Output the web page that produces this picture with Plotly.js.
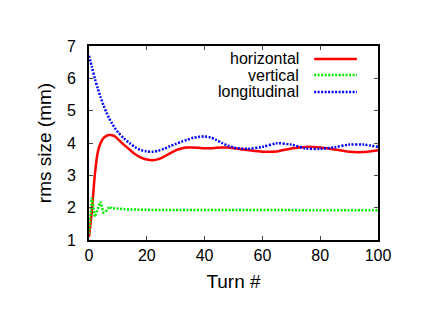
<!DOCTYPE html>
<html>
<head>
<meta charset="utf-8">
<script src="https://cdn.plot.ly/plotly-3.0.1.min.js"></script>
<style>
  body { margin: 0; background: #fff; }
  #chart { width: 421px; height: 325px; }
</style>
</head>
<body>
<div id="chart"></div>
<script>
const turns = [0, 1, 2, 3, 4, 5, 6, 7, 8, 9, 10, 12, 14, 16, 18, 20, 22, 24, 26, 28, 30, 32, 34, 36, 38, 40,
    42, 44, 46, 48, 50, 55, 60, 65, 70, 75, 80, 85, 90, 95, 100];

const horizontal = [1.1, 1.9, 3.0, 3.7, 4.0, 4.15, 4.22, 4.25, 4.24, 4.2, 4.12, 3.95, 3.8, 3.65, 3.55, 3.49, 3.47,
    3.5, 3.58, 3.68, 3.77, 3.83, 3.86, 3.86, 3.85, 3.84, 3.84, 3.85, 3.86, 3.86, 3.84, 3.78, 3.73, 3.74, 3.83,
    3.88, 3.86, 3.8, 3.73, 3.72, 3.78];

const vertical = [1.2, 2.3, 1.72, 1.95, 2.18, 1.85, 1.9, 2.03, 1.97, 1.98, 1.97, 1.95, 1.94, 1.94, 1.93, 1.93,
    1.93, 1.93, 1.93, 1.93, 1.93, 1.93, 1.93, 1.93, 1.93, 1.93, 1.93, 1.93, 1.93, 1.93, 1.93, 1.93, 1.93, 1.93,
    1.93, 1.93, 1.92, 1.92, 1.92, 1.92, 1.92];

const longitudinal = [6.7, 6.35, 6.0, 5.7, 5.42, 5.17, 4.95, 4.76, 4.6, 4.46, 4.34, 4.15, 4.0, 3.87, 3.78, 3.74,
    3.73, 3.76, 3.82, 3.9, 3.97, 4.04, 4.1, 4.16, 4.19, 4.2, 4.17, 4.1, 4.0, 3.92, 3.86, 3.82, 3.88, 3.99, 3.95,
    3.83, 3.82, 3.87, 3.95, 3.95, 3.88];

const seriesNames = ['horizontal', 'vertical', 'longitudinal'];
const seriesColors = ['#ff0000', '#00f000', '#0000ff'];
const seriesDash = ['solid', '2px,1.5px', '2px,1.5px'];

const font = 'Liberation Sans, Arial, sans-serif';

const traces = [horizontal, vertical, longitudinal].map((values, i) => ({
    name: seriesNames[i],
    x: turns,
    y: values,
    mode: 'lines',
    line: {
        color: seriesColors[i],
        width: 2.5,
        dash: seriesDash[i],
        shape: i === 1 ? 'linear' : 'spline',
        smoothing: 0.8
    },
    showlegend: false
}));

// gnuplot-style key: text right-aligned, line sample on the right
const keyY = [0.933, 0.85, 0.763];
const annotations = seriesNames.map((name, i) => ({
    xref: 'paper', yref: 'paper',
    x: 0.734, y: keyY[i],
    xanchor: 'right', yanchor: 'middle',
    text: name,
    showarrow: false,
    font: { family: font, size: 16, color: '#000' }
}));
const shapes = seriesNames.map((name, i) => ({
    type: 'line',
    xref: 'paper', yref: 'paper',
    x0: 0.779, x1: 0.927, y0: keyY[i], y1: keyY[i],
    line: { color: seriesColors[i], width: 2.5, dash: seriesDash[i] }
}));

const layout = {
    width: 421,
    height: 325,
    margin: { l: 89, r: 43, t: 46, b: 85 },
    paper_bgcolor: '#fff',
    plot_bgcolor: '#fff',
    font: { family: font, size: 16, color: '#000' },
    xaxis: {
        range: [0, 100],
        tickvals: [0, 20, 40, 60, 80, 100],
        ticks: 'inside',
        ticklen: 4,
        tickwidth: 1,
        showline: true,
        linewidth: 2,
        linecolor: '#000',
        mirror: 'ticks',
        showgrid: false,
        zeroline: false,
        title: { text: 'Turn #', standoff: 11 }
    },
    yaxis: {
        range: [1, 7],
        tickvals: [1, 2, 3, 4, 5, 6, 7],
        ticks: 'inside',
        ticklen: 4,
        tickwidth: 1,
        showline: true,
        linewidth: 2,
        linecolor: '#000',
        mirror: 'ticks',
        showgrid: false,
        zeroline: false,
        ticklabelstandoff: 8,
        title: { text: 'rms size (mm)', standoff: 10 }
    },
    annotations: annotations,
    shapes: shapes
};

Plotly.newPlot('chart', traces, layout, { displayModeBar: false, staticPlot: true });
</script>
</body>
</html>
